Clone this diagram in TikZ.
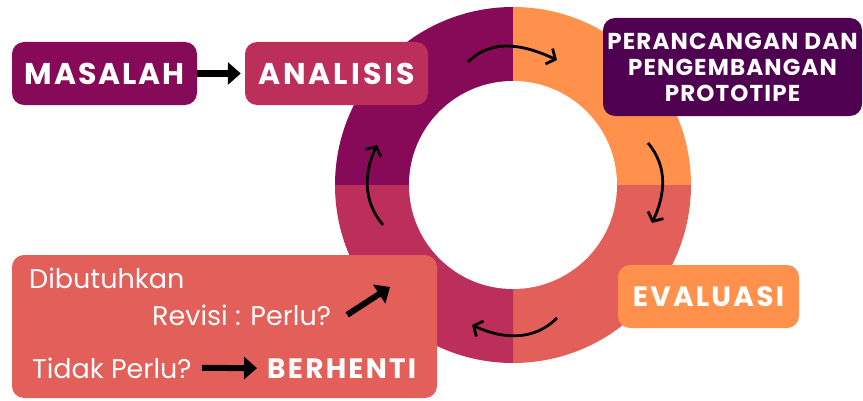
\documentclass[tikz,border=0pt]{standalone}
\usepackage{fontspec}
\setmainfont{Poppins}
\newfontfamily\headfont{Poppins}
\usetikzlibrary{arrows.meta, positioning}

\definecolor{plum}{HTML}{870A58}
\definecolor{berry}{HTML}{BB2F5A}
\definecolor{tangerine}{HTML}{FF914D}
\definecolor{coral}{HTML}{E35F59}
\definecolor{grape}{HTML}{4F0050}

\newcommand{\spaced}[1]{\addfontfeatures{LetterSpace=#1}}

\begin{document}
\begin{tikzpicture}[x=1pt, y=1pt,
        stage/.style={rounded corners=12pt, text=white, font=\fontsize{30}{32}\headfont\bfseries, inner sep=0pt, align=center},
        note/.style={text=white, font=\fontsize{27}{29}\selectfont, inner sep=0pt},
        cycle/.style={-{Straight Barb[length=7pt, width=17pt]}, line width=2.8pt, black},
        bigarrow/.style={-{Triangle[length=13pt, width=22pt]}, line width=6.5pt, black}
    ]
        \useasboundingbox (0,0) rectangle (863,400);
        \coordinate (c) at (513,215);

        % Ring
        \fill[plum] (c) -- ++(180:178) arc[start angle=180, end angle=90, radius=178] -- cycle;
        \fill[tangerine] (c) -- ++(90:178) arc[start angle=90, end angle=0, radius=178] -- cycle;
        \fill[coral] (c) -- ++(0:178) arc[start angle=0, end angle=-90, radius=178] -- cycle;
        \fill[berry] (c) -- ++(-90:178) arc[start angle=-90, end angle=-180, radius=178] -- cycle;
        \fill[white] (c) circle[radius=104];

        % Cycle arrows
        \coordinate (t1) at (468,338); \coordinate (t2) at (557,340);
        \coordinate (r1) at (648,257); \coordinate (r2) at (652,177);
        \coordinate (b1) at (557,82);  \coordinate (b2) at (472,75);
        \coordinate (l1) at (383,175); \coordinate (l2) at (377,255);
        \draw[cycle] (t1) to[out=45, in=155] (t2);
        \draw[cycle] (r1) to[out=-50, in=65] (r2);
        \draw[cycle] (b1) to[out=225, in=-25] (b2);
        \draw[cycle] (l1) to[out=130, in=245] (l2);

        % Stages
        \node[stage, fill=plum, minimum width=185pt, minimum height=63pt] (masalah) at (104.5,326.5) {\spaced{6}MASALAH};
        \node[stage, fill=berry, minimum width=183pt, minimum height=63pt] (analisis) at (336.5,326.5) {\spaced{10}ANALISIS};
        \node[stage, fill=grape, minimum width=259pt, minimum height=98pt, font=\fontsize{23}{26}\headfont\bfseries] (rancang) at (732.5,333) {\spaced{5}PERANCANGAN DAN\\\spaced{5}PENGEMBANGAN\\\spaced{5}PROTOTIPE};
        \node[stage, fill=tangerine, minimum width=181pt, minimum height=63pt, font=\fontsize{28}{30}\headfont\bfseries] (evaluasi) at (708.5,103.5) {\spaced{8}EVALUASI};
        \node[stage, fill=coral, minimum width=425pt, minimum height=143pt] (revbox) at (224.5,73.5) {};

        \draw[bigarrow, shorten >=4pt] (masalah.east) -- (analisis.west);

        % Revision box
        \node[note, anchor=base west] (butuh) at (29,112) {Dibutuhkan};
        \node[note, anchor=base west] (revisi) at (152,75) {Revisi : Perlu?};
        \node[note, anchor=base west] (tidak) at (32,22) {Tidak Perlu?};
        \node[note, anchor=base west, font=\fontsize{28}{30}\headfont\bfseries] (henti) at (267,22) {\spaced{8}BERHENTI};
        \coordinate (revtip) at (390,113);

        \draw[bigarrow, line width=6pt] ([xshift=16pt]revisi.east) -- (revtip);
        \draw[bigarrow, line width=6pt, shorten <=10pt, shorten >=10pt] (tidak.east) -- (henti.west);
    \end{tikzpicture}
\end{document}
